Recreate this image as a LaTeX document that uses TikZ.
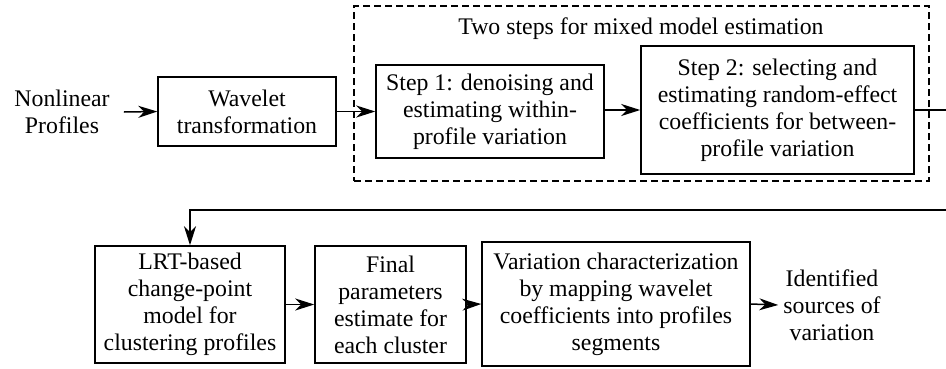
\documentclass[tikz,border=0pt]{standalone}
\usepackage{fontspec}
\setmainfont{Liberation Serif}
\usetikzlibrary{arrows.meta}
\begin{document}
\begin{tikzpicture}[x=1pt,y=-1pt,
  every node/.style={font=\fontsize{23.8}{27}\selectfont, align=center, inner sep=0pt},
  box/.style={draw, line width=1.5pt},
  grpbox/.style={draw, line width=1.3pt, dash pattern=on 7pt off 4pt},
  arr/.style={line width=1.5pt, -{Stealth[length=19pt,width=12pt,inset=6pt]}},
  conn/.style={line width=1.5pt}]
\useasboundingbox (0,0) rectangle (946,368);
\node (in) at (62,112) {Nonlinear\\Profiles};
\node[box, minimum width=178pt, minimum height=69pt] (wt) at (247,111.5) {Wavelet\\transformation};
\node[grpbox, minimum width=575pt, minimum height=175pt] (grp) at (641.5,93.5) {};
\node (title) at (641,29) {Two steps for mixed model estimation};
\node[box, minimum width=228pt, minimum height=93pt] (s1) at (490,111.5) {Step 1: denoising and\\estimating within-\\profile variation};
\node[box, minimum width=273pt, minimum height=128pt] (s2) at (777.5,110) {Step 2: selecting and\\estimating random-effect\\coefficients for between-\\profile variation};
\coordinate (r1) at (947,110);
\coordinate (r2) at (947,210);
\node[box, minimum width=190pt, minimum height=117pt] (lrt) at (190,304.5) {LRT-based\\change-point\\model for\\clustering profiles};
\node[box, minimum width=151pt, minimum height=117pt] (fin) at (390.5,304.5) {Final\\parameters\\estimate for\\each cluster};
\node[box, minimum width=268pt, minimum height=124pt] (var) at (616,304) {Variation characterization\\by mapping wavelet\\coefficients into profiles\\segments};
\node (out) at (832,305) {Identified\\sources of\\variation};
\coordinate (ina) at ([xshift=14pt]in.east);
\draw[arr] (ina) -- (wt.west);
\draw[arr] (wt.east) -- (s1.west);
\draw[arr] (s1.east |- s2.east) -- (s2.west);
\draw[arr] (s2.east) -- (r1) -- (r2) -- (lrt.north |- r2) -- (lrt.north);
\draw[arr] (lrt.east) -- (fin.west);
\draw[arr] (fin.east) -- (var.west);
\draw[arr] (var.east) -- ([xshift=-5pt]out.west);
\end{tikzpicture}
\end{document}
